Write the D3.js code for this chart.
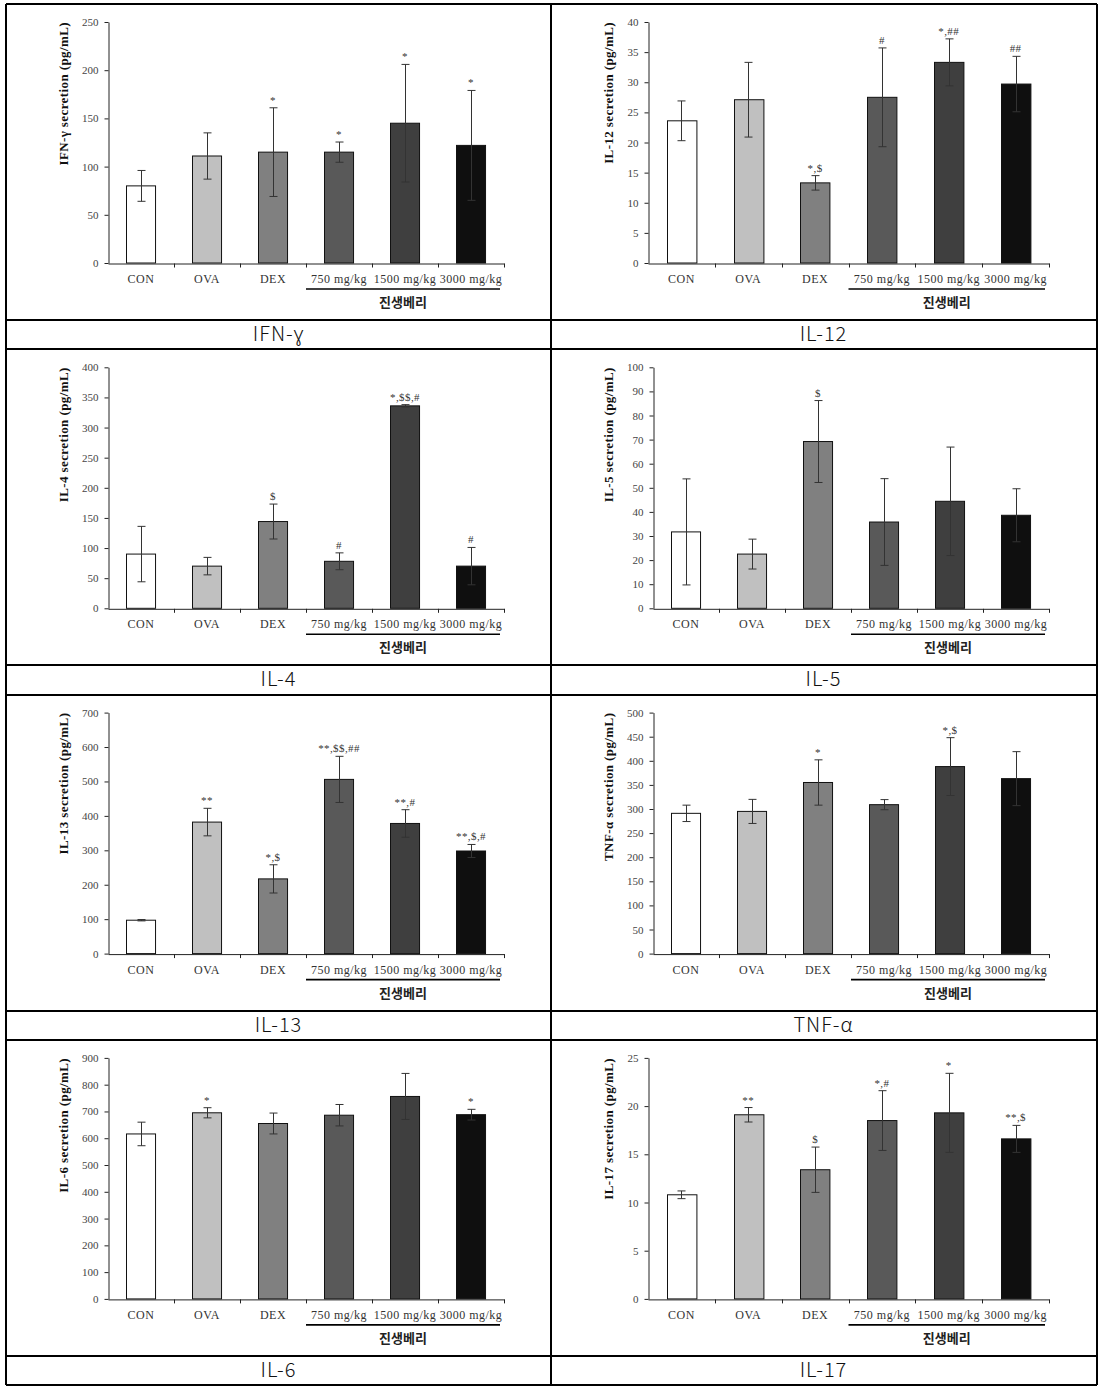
<!DOCTYPE html>
<html>
<head>
<meta charset="utf-8">
<script src="https://cdn.jsdelivr.net/npm/d3@7"></script>
<style>
  body { margin: 0; background: #fff; }
</style>
</head>
<body>
<svg id="fig" width="1101" height="1389"></svg>
<script>
// groups on the x axis, and the bar fill for each group
var groups = ["CON", "OVA", "DEX", "750 mg/kg", "1500 mg/kg", "3000 mg/kg"];
var barFill = ["#ffffff", "#c0c0c0", "#808080", "#595959", "#3f3f3f", "#0f0f0f"];
var doseLabel = "진생베리";

// values: mean, error (SD) and significance marks
var ifnMean = [80, 111, 115, 115, 145, 122];
var ifnErr  = [16, 24, 46, 10.5, 61, 57];
var ifnSig  = ["", "", "*", "*", "*", "*"];

var il12Mean = [23.6, 27.1, 13.3, 27.5, 33.3, 29.7];
var il12Err  = [3.3, 6.2, 1.2, 8.2, 3.9, 4.6];
var il12Sig  = ["", "", "*,$", "#", "*,##", "##"];

var il4Mean = [90, 70, 144, 78, 336, 70];
var il4Err  = [46, 14.5, 29, 14, 2, 31];
var il4Sig  = ["", "", "$", "#", "*,$$,#", "#"];

var il5Mean = [31.7, 22.5, 69.2, 35.8, 44.4, 38.6];
var il5Err  = [22, 6.2, 17, 18, 22.5, 11];
var il5Sig  = ["", "", "$", "", "", ""];

var il13Mean = [97, 382, 217, 506, 378, 298];
var il13Err  = [2, 40, 41, 67, 40, 19];
var il13Sig  = ["", "**", "*,$", "**,$$,##", "**,#", "**,$,#"];

var tnfMean = [291, 295, 355, 309, 388, 363];
var tnfErr  = [17, 25, 47, 10.5, 60, 56];
var tnfSig  = ["", "", "*", "", "*,$", ""];

var il6Mean = [616, 695, 655, 686, 756, 688];
var il6Err  = [44, 19, 39, 40, 86, 20];
var il6Sig  = ["", "*", "", "", "", "*"];

var il17Mean = [10.8, 19.1, 13.4, 18.5, 19.3, 16.6];
var il17Err  = [0.4, 0.75, 2.35, 3.1, 4.1, 1.4];
var il17Sig  = ["", "**", "$", "*,#", "*", "**,$"];

// y axis: max and step of each panel
var yMax  = [250, 40, 400, 100, 700, 500, 900, 25];
var yStep = [50, 5, 50, 10, 100, 50, 100, 5];

var yTitles = ["IFN-γ secretion (pg/mL)", "IL-12 secretion (pg/mL)", "IL-4 secretion (pg/mL)",
  "IL-5 secretion (pg/mL)", "IL-13 secretion (pg/mL)", "TNF-α secretion (pg/mL)",
  "IL-6 secretion (pg/mL)", "IL-17 secretion (pg/mL)"];
var captions = ["IFN-ɣ", "IL-12", "IL-4", "IL-5", "IL-13", "TNF-α", "IL-6", "IL-17"];

var means = [ifnMean, il12Mean, il4Mean, il5Mean, il13Mean, tnfMean, il6Mean, il17Mean];
var errs  = [ifnErr, il12Err, il4Err, il5Err, il13Err, tnfErr, il6Err, il17Err];
var sigs  = [ifnSig, il12Sig, il4Sig, il5Sig, il13Sig, tnfSig, il6Sig, il17Sig];

var svg = d3.select("#fig");
svg.append("rect").attr("width", 1101).attr("height", 1389).attr("fill", "#fff");

// table frame
var tLeft = 6, tMid = 551, tRight = 1097, tTop = 4, rowPitch = 345.3, chartH = 316;
var serif = "'Liberation Serif', 'DejaVu Serif', serif";
var kr = "'Noto Sans CJK KR', 'Noto Sans', sans-serif";

means.forEach(function(mean, k) {
  var col = k % 2, row = Math.floor(k / 2);
  var cx = col == 0 ? tLeft : tMid;
  var cy = tTop + row * rowPitch;
  var left = cx + (yMax[k] < 100 ? 97 : 102);
  var right = cx + 498;
  var top = cy + 18, bottom = cy + 259;

  var x = d3.scaleBand().domain(groups).range([left, right])
    .paddingInner(0.56).paddingOuter(0.28);
  var y = d3.scaleLinear().domain([0, yMax[k]]).range([bottom, top]);

  var g = svg.append("g");
  var rows = mean.map(function(m, i) {
    return { group: groups[i], mean: m, err: errs[k][i], sig: sigs[k][i], fill: barFill[i] };
  });

  // bars
  g.selectAll("rect.bar").data(rows).enter().append("rect")
    .attr("class", "bar")
    .attr("x", function(d) { return Math.round(x(d.group)) + 0.5; })
    .attr("y", function(d) { return y(d.mean); })
    .attr("width", x.bandwidth())
    .attr("height", function(d) { return bottom - y(d.mean); })
    .attr("fill", function(d) { return d.fill; })
    .attr("stroke", "#111")
    .attr("stroke-width", 1);

  // error bars
  var eb = g.selectAll("g.err").data(rows).enter().append("g")
    .attr("stroke", "#333").attr("stroke-width", 1);
  var cxOf = function(d) { return Math.round(x(d.group) + x.bandwidth() / 2) + 0.5; };
  eb.append("line")
    .attr("x1", cxOf).attr("x2", cxOf)
    .attr("y1", function(d) { return y(d.mean - d.err); })
    .attr("y2", function(d) { return y(d.mean + d.err); });
  eb.append("line")
    .attr("x1", function(d) { return cxOf(d) - 4; }).attr("x2", function(d) { return cxOf(d) + 4; })
    .attr("y1", function(d) { return y(d.mean + d.err); })
    .attr("y2", function(d) { return y(d.mean + d.err); });
  eb.append("line")
    .attr("x1", function(d) { return cxOf(d) - 4; }).attr("x2", function(d) { return cxOf(d) + 4; })
    .attr("y1", function(d) { return y(d.mean - d.err); })
    .attr("y2", function(d) { return y(d.mean - d.err); });

  // significance marks
  g.selectAll("text.sig").data(rows).enter().append("text")
    .attr("x", function(d) { return x(d.group) + x.bandwidth() / 2; })
    .attr("y", function(d) { return y(d.mean + d.err) - 4; })
    .attr("text-anchor", "middle")
    .attr("font-family", serif).attr("font-size", 11).attr("letter-spacing", 0.4)
    .attr("fill", "#333")
    .text(function(d) { return d.sig; });

  // y axis
  var ya = g.append("g").attr("transform", "translate(" + (left + 0.5) + ",0)")
    .call(d3.axisLeft(y).tickValues(d3.range(0, yMax[k] + yStep[k] / 2, yStep[k]))
      .tickSize(4).tickSizeOuter(0).tickPadding(6));
  ya.selectAll("text").attr("font-family", serif).attr("font-size", 11).attr("fill", "#444");
  ya.selectAll("line, path").attr("stroke", "#222");

  // x axis with ticks between groups
  var xa = g.append("g").attr("transform", "translate(0," + (bottom + 0.5) + ")")
    .call(d3.axisBottom(x).tickSize(0).tickPadding(11));
  xa.selectAll("text").attr("font-family", serif).attr("font-size", 12)
    .attr("letter-spacing", 0.5).attr("fill", "#333");
  xa.select("path").attr("stroke", "#222");
  xa.selectAll("line.sep").data(d3.range(1, groups.length + 1)).enter().append("line")
    .attr("class", "sep")
    .attr("x1", function(i) { return Math.round(left + i * x.step()) + 0.5; })
    .attr("x2", function(i) { return Math.round(left + i * x.step()) + 0.5; })
    .attr("y1", 0).attr("y2", 4).attr("stroke", "#222");

  // dose group underline and label
  var gx0 = left + 3 * x.step(), gx1 = right - 4;
  g.append("line").attr("x1", gx0).attr("x2", gx1)
    .attr("y1", bottom + 26).attr("y2", bottom + 26)
    .attr("stroke", "#000").attr("stroke-width", 1.6);
  g.append("text").attr("x", (gx0 + gx1) / 2).attr("y", bottom + 44)
    .attr("text-anchor", "middle").attr("font-family", kr).attr("font-weight", "bold")
    .attr("font-size", 13).attr("fill", "#222").text(doseLabel);

  // y title
  g.append("text")
    .attr("transform", "translate(" + (cx + 57) + "," + top + ") rotate(-90)")
    .attr("text-anchor", "end").attr("dy", "0.35em")
    .attr("font-family", serif).attr("font-weight", "bold").attr("font-size", 13)
    .attr("letter-spacing", 0.4).attr("fill", "#111").text(yTitles[k]);

  // caption row
  svg.append("text").attr("x", cx + (tMid - tLeft) / 2).attr("y", cy + chartH + 21)
    .attr("text-anchor", "middle").attr("font-family", kr).attr("font-size", 20)
    .attr("font-weight", 300).attr("letter-spacing", 1).attr("fill", "#111").text(captions[k]);
});

// table lines
var frame = svg.append("g").attr("stroke", "#000").attr("stroke-width", 1.2).attr("shape-rendering", "crispEdges");
[tLeft, tMid, tRight].forEach(function(xx) {
  frame.append("line").attr("x1", xx).attr("x2", xx).attr("y1", tTop).attr("y2", tTop + 4 * rowPitch);
});
d3.range(0, 5).forEach(function(r) {
  var yy = Math.round(tTop + r * rowPitch);
  frame.append("line").attr("x1", tLeft).attr("x2", tRight).attr("y1", yy).attr("y2", yy);
  if (r < 4) {
    var yc = Math.round(tTop + r * rowPitch + chartH);
    frame.append("line").attr("x1", tLeft).attr("x2", tRight).attr("y1", yc).attr("y2", yc);
  }
});
</script>
</body>
</html>
